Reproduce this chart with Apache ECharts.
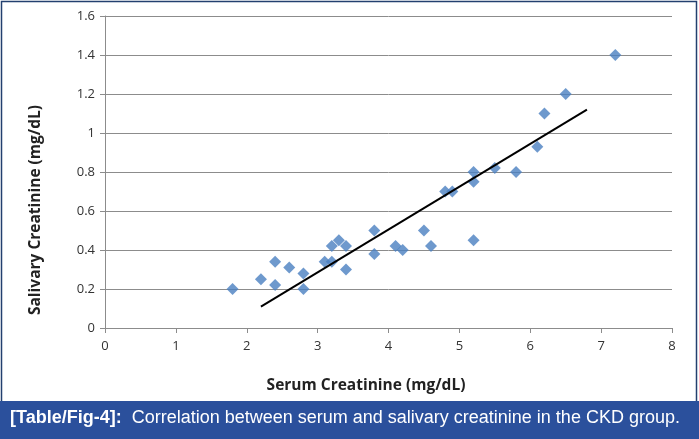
<!DOCTYPE html>
<html>
<head>
<meta charset="utf-8">
<script src="https://cdn.jsdelivr.net/npm/echarts@6/dist/echarts.min.js"></script>
<style>
  html, body { margin: 0; padding: 0; background: #fff; }
  #chart { width: 699px; height: 439px; }
</style>
</head>
<body>
<div id="chart"></div>
<script>
// serum vs salivary creatinine, CKD group
var serum = [1.8, 2.2, 2.4, 2.4, 2.6, 2.8, 2.8, 3.1, 3.2, 3.2, 3.3, 3.4, 3.4, 3.8, 3.8,
             4.1, 4.2, 4.5, 4.6, 4.8, 4.9, 5.2, 5.2, 5.2, 5.5, 5.8, 6.1, 6.2, 6.5, 7.2];
var salivary = [0.2, 0.25, 0.34, 0.22, 0.31, 0.28, 0.2, 0.34, 0.34, 0.42, 0.45, 0.42, 0.3, 0.5, 0.38,
                0.42, 0.4, 0.5, 0.42, 0.7, 0.7, 0.8, 0.75, 0.45, 0.82, 0.8, 0.93, 1.1, 1.2, 1.4];
// trend line end points as drawn
var trendX = [2.2, 6.8];
var trendY = [0.11, 1.12];

var xTicks = [0, 1, 2, 3, 4, 5, 6, 7, 8];
var yTicks = [0, 0.2, 0.4, 0.6, 0.8, 1, 1.2, 1.4, 1.6];

var CAPTION = 'Correlation between serum and salivary creatinine in the CKD group.';
var BLUE = '#2b509c';
var labelFont = '"Open Sans", "Liberation Sans", sans-serif';
var capFont = '"Liberation Sans", Arial, sans-serif';

var chart = echarts.init(document.getElementById('chart'));

var points = serum.map(function (x, i) { return [x, salivary[i]]; });
var trend = trendX.map(function (x, i) { return [x, trendY[i]]; });

var option = {
  animation: false,
  backgroundColor: '#fff',
  grid: { left: 105, right: 27, top: 16, bottom: 111 },
  xAxis: {
    type: 'value',
    min: xTicks[0],
    max: xTicks[xTicks.length - 1],
    interval: 1,
    axisLine: { show: true, lineStyle: { color: '#8c8c8c', width: 1 } },
    axisTick: { show: true, length: 5, lineStyle: { color: '#8c8c8c' } },
    splitLine: { show: false },
    axisLabel: { color: '#333', fontSize: 13, fontFamily: labelFont, margin: 12 }
  },
  yAxis: {
    type: 'value',
    min: yTicks[0],
    max: yTicks[yTicks.length - 1],
    interval: 0.2,
    axisLine: { show: true, lineStyle: { color: '#8c8c8c', width: 1 } },
    axisTick: { show: true, length: 5, lineStyle: { color: '#8c8c8c' } },
    splitLine: { show: true, lineStyle: { color: '#8c8c8c', width: 1 } },
    axisLabel: {
      color: '#333', fontSize: 13, fontFamily: labelFont, margin: 10,
      formatter: function (v) { return String(Math.round(v * 10) / 10); }
    }
  },
  graphic: [
    {
      type: 'rect',
      shape: { x: 1.5, y: 1.5, width: 695, height: 436 },
      style: { fill: 'none', stroke: '#23406f', lineWidth: 1.5 },
      z: 0
    },
    {
      type: 'rect',
      shape: { x: 0, y: 401, width: 699, height: 38 },
      style: { fill: BLUE },
      z: 10
    },
    {
      type: 'text',
      left: 10, top: 409,
      z: 11,
      style: {
        text: '{b|[Table/Fig-4]:}  ' + CAPTION,
        rich: {
          b: { fontWeight: 'bold', fontSize: 18, fill: '#fff', fontFamily: capFont }
        },
        fontSize: 18,
        fill: '#fff',
        fontFamily: capFont
      }
    },
    {
      type: 'text',
      x: 366, y: 386,
      z: 5,
      style: {
        text: 'Serum Creatinine (mg/dL)',
        fontSize: 15.5, fontWeight: 'bold', fill: '#222',
        fontFamily: labelFont,
        align: 'center', verticalAlign: 'middle'
      }
    },
    {
      type: 'text',
      x: 36, y: 210,
      rotation: Math.PI / 2,
      z: 5,
      style: {
        text: 'Salivary Creatinine (mg/dL)',
        fontSize: 15.5, fontWeight: 'bold', fill: '#222',
        fontFamily: labelFont,
        align: 'center', verticalAlign: 'middle'
      }
    }
  ],
  series: [
    {
      type: 'scatter',
      data: points,
      symbol: 'diamond',
      symbolSize: 12,
      itemStyle: { color: '#4a7fc1' },
      z: 3
    },
    {
      type: 'line',
      data: trend,
      symbol: 'none',
      lineStyle: { color: '#000', width: 2 },
      z: 4
    }
  ]
};

chart.setOption(option);
</script>
</body>
</html>
